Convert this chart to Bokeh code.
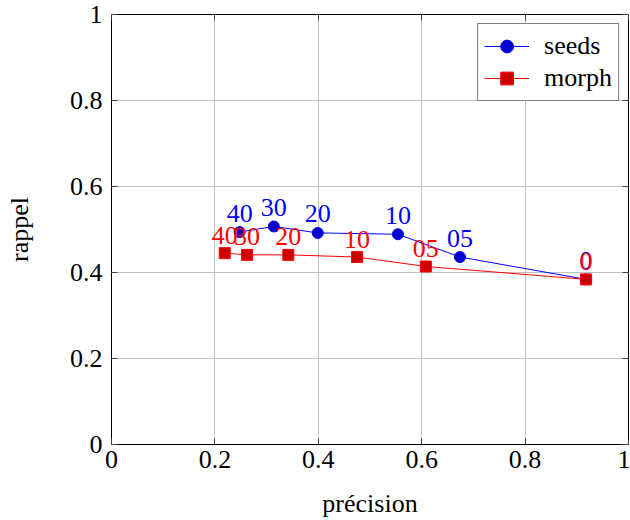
from bokeh.plotting import figure
from bokeh.models import Range1d, FixedTicker, LinearAxis, Legend, LegendItem
from bokeh.core.properties import value
from bokeh.embed import file_html
from bokeh.resources import INLINE

# data
seeds_prec = [0.248, 0.314, 0.399, 0.554, 0.674, 0.918]
seeds_rap = [0.494, 0.507, 0.492, 0.489, 0.436, 0.384]
seeds_lbl = ["40", "30", "20", "10", "05", "0"]
morph_prec = [0.219, 0.262, 0.342, 0.475, 0.608, 0.918]
morph_rap = [0.445, 0.441, 0.441, 0.436, 0.414, 0.384]
morph_lbl = ["40", "30", "20", "10", "05", "0"]
ticks = [0, 0.2, 0.4, 0.6, 0.8, 1]
tick_labels = ["0", "0.2", "0.4", "0.6", "0.8", "1"]

FONT = "Liberation Serif"
FS = "26px"

p = figure(width=630, height=520, output_backend="svg", toolbar_location=None,
           x_range=Range1d(0, 1), y_range=Range1d(0, 1),
           min_border_left=111, min_border_right=2, min_border_top=14, min_border_bottom=76)
p.outline_line_color = "black"
p.outline_line_width = 1
p.background_fill_color = "white"
p.border_fill_color = "white"

overrides = {t: l for t, l in zip(ticks, tick_labels)}
for ax in (p.xaxis[0], p.yaxis[0]):
    ax.ticker = FixedTicker(ticks=ticks)
    ax.major_label_overrides = overrides
    ax.axis_line_color = None
    ax.major_tick_in = 6
    ax.major_tick_out = 0
    ax.major_tick_line_color = "#404040"
    ax.minor_tick_line_color = None
    ax.major_label_text_font = FONT
    ax.major_label_text_font_size = FS
    ax.major_label_text_color = "black"
    ax.axis_label_text_font = FONT
    ax.axis_label_text_font_size = FS
    ax.axis_label_text_font_style = "normal"
    ax.axis_label_text_color = "black"
p.xaxis.axis_label = "précision"
p.yaxis.axis_label = "rappel"
p.xaxis.major_label_standoff = 6
p.yaxis.major_label_standoff = 9
p.xaxis.axis_label_standoff = 18
p.yaxis.axis_label_standoff = 33

# mirrored ticks
for side in ("right", "above"):
    ax = LinearAxis(ticker=FixedTicker(ticks=ticks), axis_line_color=None,
                    major_tick_in=6, major_tick_out=0, major_tick_line_color="#404040",
                    minor_tick_line_color=None, major_label_text_font_size="0px")
    p.add_layout(ax, side)

p.xgrid.ticker = FixedTicker(ticks=ticks)
p.ygrid.ticker = FixedTicker(ticks=ticks)
p.grid.grid_line_color = "#c0c0c0"
p.grid.grid_line_width = 1

BLUE = "#0000ff"
RED = "#ff0000"

l1 = p.line(seeds_prec, seeds_rap, line_color=BLUE, line_width=1)
s1 = p.scatter(seeds_prec, seeds_rap, marker="circle", size=11, fill_color="#0000cc", line_color=BLUE)
l2 = p.line(morph_prec, morph_rap, line_color=RED, line_width=1)
s2 = p.scatter(morph_prec, morph_rap, marker="square", size=11, fill_color="#cc0000", line_color=RED)

p.text(seeds_prec, seeds_rap, text=seeds_lbl, text_color=BLUE, text_font=value(FONT),
       text_font_size=FS, text_align="center", text_baseline="middle", y_offset=-19)
p.text(morph_prec, morph_rap, text=morph_lbl, text_color=RED, text_font=value(FONT),
       text_font_size=FS, text_align="center", text_baseline="middle", y_offset=-18)

legend = Legend(items=[LegendItem(label="seeds", renderers=[l1, s1]),
                       LegendItem(label="morph", renderers=[l2, s2])],
                location="top_right")
legend.label_text_font = FONT
legend.label_text_font_size = FS
legend.label_text_color = "black"
legend.border_line_color = "black"
legend.border_line_width = 1
legend.background_fill_alpha = 1
legend.padding = 6
legend.spacing = 0
legend.margin = 9
legend.glyph_width = 45
legend.glyph_height = 32
legend.label_height = 32
legend.label_standoff = 15
legend.label_text_baseline = "middle"
p.add_layout(legend, "center")

open("out.html", "w").write(file_html(p, INLINE))
